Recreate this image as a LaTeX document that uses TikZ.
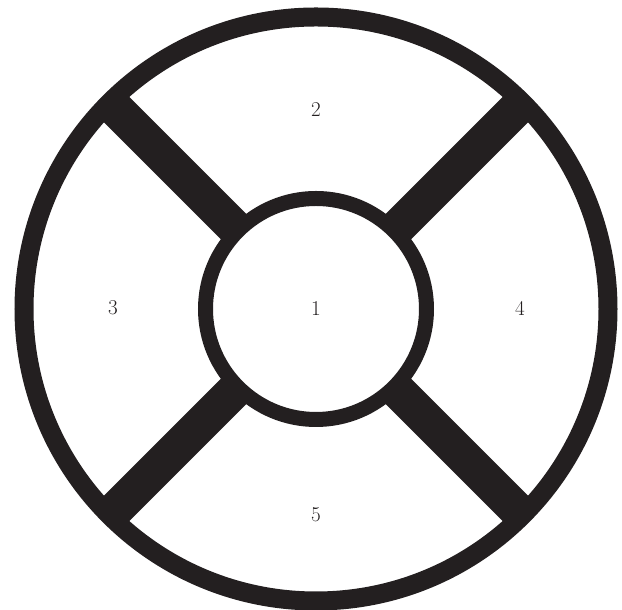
\documentclass[tikz,border=0pt]{standalone}
\usepackage{tikz}
\usetikzlibrary{positioning,calc}
\definecolor{ringdark}{HTML}{231F20}

\begin{document}
\begin{tikzpicture}[
  outerring/.style={draw=ringdark, line width=0.475cm},
  innerring/.style={draw=ringdark, line width=0.375cm, fill=white},
  spoke/.style={draw=ringdark, line width=0.9cm},
  lbl/.style={inner sep=0pt, font=\fontsize{15}{17}\selectfont, text=ringdark},
]
\useasboundingbox (0,0) rectangle (15.55,15.25);
\coordinate (c) at (7.9,7.525);
\foreach \a in {45,135,225,315}
  \draw[spoke] ($(c)+(\a:2.76)$) -- ($(c)+(\a:7.3)$);
\draw[outerring] (c) circle (7.3);
\draw[innerring] (c) circle (2.7625);
\node[lbl] (n1) at (c) {1};
\node[lbl] (n2) at (7.9,12.5) {2};
\node[lbl] (n3) at (2.825,7.55) {3};
\node[lbl] (n4) at (13.0,7.55) {4};
\node[lbl] (n5) at (7.9,2.37) {5};
\end{tikzpicture}
\end{document}
